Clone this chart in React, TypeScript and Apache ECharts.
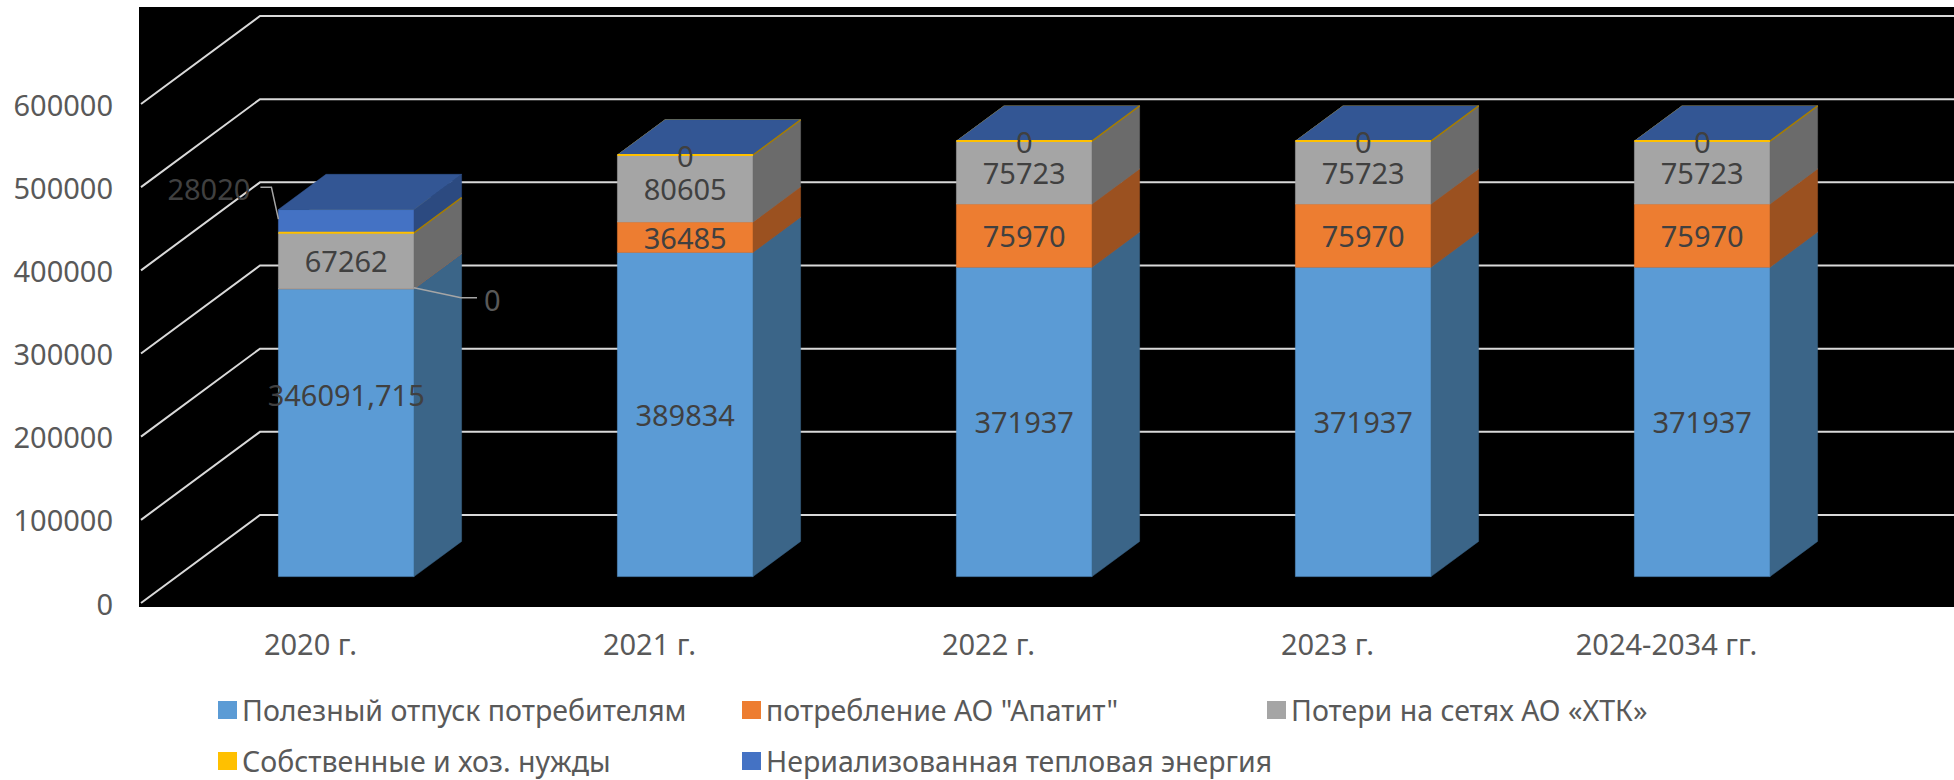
import React, { useEffect, useRef } from "react";
import * as echarts from "echarts";

// ---------- data ----------
const CATEGORIES = ["2020 г.", "2021 г.", "2022 г.", "2023 г.", "2024-2034 гг."];
const SERIES_NAMES = [
  "Полезный отпуск потребителям",
  'потребление АО "Апатит"',
  "Потери на сетях АО «ХТК»",
  "Собственные и хоз. нужды",
  "Нериализованная тепловая энергия",
];
const USEFUL_SUPPLY = [346091.715, 389834, 371937, 371937, 371937];
const APATIT_USE = [0, 36485, 75970, 75970, 75970];
const NETWORK_LOSSES = [67262, 80605, 75723, 75723, 75723];
const OWN_NEEDS = [0, 0, 0, 0, 0];
const UNREALIZED = [28020, 0, 0, 0, 0];
const Y_TICKS = [0, 100000, 200000, 300000, 400000, 500000, 600000];

const SERIES_VALUES = [USEFUL_SUPPLY, APATIT_USE, NETWORK_LOSSES, OWN_NEEDS, UNREALIZED];

// ---------- styles ----------
const FONT = "Noto Sans";
const FONT_SIZE = 29;
const LEGEND_FONT_SIZE = 28.5;
const DX = 119; // wall depth (x)
const DY = -88; // wall depth (y)
const FRONT = 0.3; // bar front plane depth fraction
const DEPTH = 0.4; // bar depth fraction
const BAR_RATIO = 0.4;
const FACES = [
  { front: "#5b9bd5", side: "#3b6588", top: "#4a80b2", label: true, edge: false },
  { front: "#ed7d31", side: "#9b5120", top: "#c5652a", label: true, edge: false },
  { front: "#a5a5a5", side: "#6b6b6b", top: "#8a8a8a", label: true, edge: false },
  { front: "#ffc000", side: "#a67d00", top: "#d4a000", label: false, edge: true },
  { front: "#4472c4", side: "#2c4a80", top: "#335694", label: true, edge: false },
];
// legend slots (left, top) per series
const LEGEND_SLOTS = [
  [218, 695],
  [742, 695],
  [1267, 695],
  [218, 746],
  [742, 746],
];
// label placement tweaks: "seriesIndex-categoryIndex"
const LABEL_TWEAKS: Record<string, { dy?: number; leader?: "left" | "right" }> = {
  "0-0": { dy: -38 },
  "1-0": { leader: "right" },
  "4-0": { leader: "left" },
};

function fmt(v: number) {
  return String(v).replace(".", ",");
}

function makeRender(si: number) {
  return (params: any, api: any) => {
    const ci = api.value(0);
    const base = api.value(1);
    const top = api.value(2);
    const val = api.value(3);
    const band = api.size([1, 0])[0];
    const w = band * BAR_RATIO;
    const p0 = api.coord([ci, base]);
    const p1 = api.coord([ci, top]);
    const xl = p0[0] - w / 2 + DX * FRONT;
    const xr = xl + w;
    const yb = p0[1] + DY * FRONT;
    const yt = p1[1] + DY * FRONT;
    const bx = DX * DEPTH;
    const by = DY * DEPTH;
    const st = FACES[si];
    const children: any[] = [];
    if (yb - yt > 0.01) {
      children.push({
        type: "rect",
        shape: { x: xl, y: yt, width: w, height: yb - yt },
        style: { fill: st.front, stroke: st.front, lineWidth: 0.5 },
      });
      children.push({
        type: "polygon",
        shape: { points: [[xr, yt], [xr, yb], [xr + bx, yb + by], [xr + bx, yt + by]] },
        style: { fill: st.side, stroke: st.side, lineWidth: 0.5 },
      });
    }
    children.push({
      type: "polygon",
      shape: { points: [[xl, yt], [xr, yt], [xr + bx, yt + by], [xl + bx, yt + by]] },
      style: { fill: st.top, stroke: st.top, lineWidth: 0.5 },
    });
    if (st.edge) {
      children.push({
        type: "line",
        z2: 50,
        shape: { x1: xl, y1: yt, x2: xr, y2: yt },
        style: { stroke: st.front, lineWidth: 2 },
      });
      children.push({
        type: "line",
        z2: 50,
        shape: { x1: xr, y1: yt, x2: xr + bx, y2: yt + by },
        style: { stroke: st.side, lineWidth: 1.5 },
      });
    }
    if (st.label) {
      const tw = LABEL_TWEAKS[si + "-" + ci] || {};
      const cx = (xl + xr) / 2;
      const cy = (yt + yb) / 2 + (tw.dy || 0);
      if (tw.leader === "right") {
        children.push({
          type: "polyline",
          z2: 100,
          shape: { points: [[xr, yt - 1], [xr + 47, yt + 9], [xr + 63, yt + 9]] },
          style: { stroke: "#a6a6a6", lineWidth: 1.5, fill: "none" },
        });
        children.push({
          type: "text",
          z2: 100,
          x: xr + 70,
          y: yt + 11,
          style: { text: fmt(val), fill: "#595959", fontSize: FONT_SIZE, fontFamily: FONT, align: "left", verticalAlign: "middle" },
        });
      } else if (tw.leader === "left") {
        const mid = (yt + yb) / 2;
        children.push({
          type: "polyline",
          z2: 100,
          shape: { points: [[xl, mid - 2], [xl - 7, mid - 34], [xl - 18, mid - 34]] },
          style: { stroke: "#a6a6a6", lineWidth: 1.5, fill: "none" },
        });
        children.push({
          type: "text",
          z2: 100,
          x: xl - 28,
          y: mid - 33,
          style: { text: fmt(val), fill: "#404040", fontSize: FONT_SIZE, fontFamily: FONT, align: "right", verticalAlign: "middle" },
        });
      } else {
        children.push({
          type: "text",
          z2: 100,
          x: cx,
          y: cy,
          style: { text: fmt(val), fill: "#404040", fontSize: FONT_SIZE, fontFamily: FONT, align: "center", verticalAlign: "middle" },
        });
      }
    }
    return { type: "group", children };
  };
}

function renderWall(params: any, api: any) {
  const cs = params.coordSys;
  const y = api.coord([0, api.value(1)])[1];
  return {
    type: "polyline",
    shape: {
      points: [
        [cs.x, y],
        [cs.x + DX, y + DY],
        [cs.x + cs.width + DX, y + DY],
      ],
    },
    style: { stroke: "#d9d9d9", lineWidth: 2, fill: "none" },
  };
}

export default function App() {
  const ref = useRef<HTMLDivElement>(null);
  useEffect(() => {
    document.body.style.margin = "0";
    const chart = echarts.init(ref.current!, null, { renderer: "svg" });

    const stacked: any[] = [];
    const cum = CATEGORIES.map(() => 0);
    SERIES_VALUES.forEach((vals, si) => {
      const data = vals.map((v, ci) => {
        const base = cum[ci];
        cum[ci] += v;
        return [ci, base, cum[ci], v];
      });
      stacked.push({
        type: "custom",
        name: SERIES_NAMES[si],
        z: 2,
        itemStyle: { color: FACES[si].front },
        encode: { x: 0, y: [1, 2] },
        renderItem: makeRender(si),
        data,
      });
    });

    const legends = SERIES_NAMES.map((name, i) => ({
      orient: "horizontal",
      icon: "rect",
      itemWidth: 19,
      itemHeight: 18,
      padding: 0,
      left: LEGEND_SLOTS[i][0],
      top: LEGEND_SLOTS[i][1],
      textStyle: { color: "#595959", fontSize: LEGEND_FONT_SIZE, fontFamily: FONT, lineHeight: 30 },
      data: [name],
    }));

    chart.setOption({
      animation: false,
      backgroundColor: "#ffffff",
      graphic: [
        {
          type: "rect",
          z: 0,
          silent: true,
          shape: { x: 139, y: 7, width: 1815, height: 600 },
          style: { fill: "#000000" },
        },
      ],
      grid: { left: 141, right: 118, top: 104, bottom: 177, containLabel: false, outerBoundsMode: "none" },
      legend: legends,
      xAxis: {
        type: "category",
        data: CATEGORIES,
        axisLine: { show: false },
        axisTick: { show: false },
        splitLine: { show: false },
        axisLabel: { color: "#595959", fontSize: FONT_SIZE, fontFamily: FONT, margin: 26 },
      },
      yAxis: {
        type: "value",
        min: 0,
        max: 600000,
        interval: 100000,
        axisLine: { show: false },
        axisTick: { show: false },
        splitLine: { show: false },
        axisLabel: {
          color: "#595959",
          fontSize: FONT_SIZE,
          fontFamily: FONT,
          margin: 28,
          formatter: (v: number) => String(v),
        },
      },
      series: [
        {
          type: "custom",
          name: "walls",
          z: 1,
          silent: true,
          encode: { x: 0, y: 1 },
          renderItem: renderWall,
          data: Y_TICKS.map((v) => [0, v]),
        },
        ...stacked,
      ],
    });
    return () => chart.dispose();
  }, []);
  return (
    <div
      ref={ref}
      style={{ position: "absolute", left: 0, top: 0, width: 1954, height: 780, background: "#fff" }}
    />
  );
}
